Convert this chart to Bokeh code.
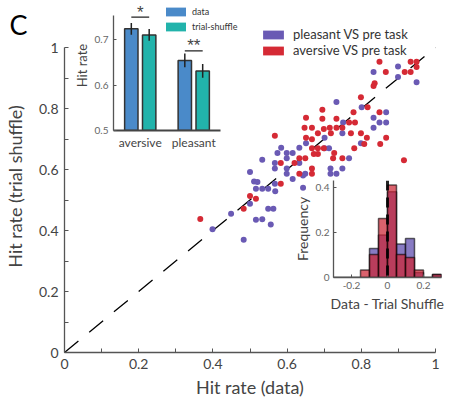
from bokeh.plotting import figure
from bokeh.models import (FixedTicker, Legend, LegendItem, Label, Span, Range1d,
                          CustomJSTickFormatter)
from bokeh.layouts import column
from bokeh.embed import file_html
from bokeh.resources import INLINE

FONT = "Lato"
PURPLE = "#6a5ab4"
RED = "#d52a35"
BLUE = "#4a8ac9"
TEAL = "#22b3ab"
AX = "#555555"
TXT = "#444444"

# ---------------- scatter data ----------------
pleasant_x = [0.899, 0.833, 0.899, 0.949, 0.733, 0.801, 0.867, 0.833, 0.751, 0.849,
              0.867, 0.833, 0.749, 0.701, 0.651, 0.584, 0.633, 0.599, 0.574, 0.615,
              0.701, 0.713, 0.799, 0.599, 0.533, 0.567, 0.633, 0.767, 0.567, 0.599,
              0.599, 0.615, 0.649, 0.643, 0.717, 0.749, 0.717, 0.733, 0.500, 0.511,
              0.520, 0.516, 0.533, 0.549, 0.567, 0.568, 0.643, 0.500, 0.449, 0.549,
              0.563, 0.516, 0.533, 0.556, 0.399, 0.483]
pleasant_y = [0.938, 0.920, 0.903, 0.886, 0.821, 0.804, 0.788, 0.770, 0.754, 0.754,
              0.754, 0.737, 0.719, 0.704, 0.686, 0.671, 0.671, 0.654, 0.654, 0.654,
              0.670, 0.670, 0.686, 0.637, 0.632, 0.621, 0.621, 0.637, 0.603, 0.603,
              0.586, 0.569, 0.586, 0.580, 0.603, 0.603, 0.586, 0.586, 0.592, 0.561,
              0.559, 0.537, 0.537, 0.537, 0.553, 0.529, 0.540, 0.488, 0.455, 0.471,
              0.471, 0.435, 0.437, 0.420, 0.404, 0.370]

aversive_x = [0.849, 0.866, 0.933, 0.949, 0.917, 0.933, 0.949, 0.836, 0.833, 0.799,
              0.817, 0.779, 0.849, 0.695, 0.651, 0.695, 0.733, 0.767, 0.783, 0.647,
              0.667, 0.683, 0.699, 0.715, 0.733, 0.749, 0.718, 0.772, 0.799, 0.815,
              0.867, 0.567, 0.651, 0.667, 0.667, 0.683, 0.699, 0.781, 0.808, 0.851,
              0.683, 0.672, 0.633, 0.649, 0.724, 0.749, 0.583, 0.620, 0.667, 0.667,
              0.727, 0.915, 0.583, 0.500, 0.516, 0.483, 0.366, 0.633]
aversive_y = [0.953, 0.920, 0.953, 0.953, 0.920, 0.920, 0.936, 0.883, 0.874, 0.837,
              0.804, 0.788, 0.788, 0.796, 0.770, 0.766, 0.766, 0.754, 0.754, 0.737,
              0.737, 0.719, 0.733, 0.737, 0.737, 0.737, 0.719, 0.719, 0.719, 0.704,
              0.704, 0.711, 0.704, 0.699, 0.670, 0.670, 0.670, 0.670, 0.684, 0.684,
              0.651, 0.651, 0.637, 0.637, 0.637, 0.637, 0.621, 0.621, 0.603, 0.586,
              0.654, 0.630, 0.553, 0.513, 0.504, 0.471, 0.438, 0.586]

main_ticks = [0, 0.2, 0.4, 0.6, 0.8, 1.0]
main_minor = [0.1, 0.3, 0.5, 0.7, 0.9]

# ---------------- bar inset data ----------------
groups = ["aversive", "pleasant"]
group_pos = [1, 2]
data_mean = [0.7235, 0.654]
data_err = [0.013, 0.015]
shuffle_mean = [0.710, 0.631]
shuffle_err = [0.013, 0.015]
sig_text = ["*", "**"]
sig_level = [0.749, 0.675]
bar_ticks = [0.5, 0.6, 0.7]

# ---------------- histogram inset data ----------------
bin_edges = [-0.3, -0.25, -0.2, -0.15, -0.1, -0.05, 0.0, 0.05, 0.1, 0.15, 0.2, 0.25, 0.3]
pleasant_freq = [0, 0, 0, 0, 0.129, 0.188, 0.38, 0.148, 0.173, 0.022, 0, 0.013]
aversive_freq = [0, 0, 0, 0.033, 0.102, 0.262, 0.41, 0.102, 0.089, 0.033, 0, 0.013]
hist_xticks = [-0.2, 0, 0.2]
hist_yticks = [0, 0.2, 0.4]

fmt = CustomJSTickFormatter(code="return String(Number(tick.toFixed(2)));")


def style_axis(ax, label_size, tick_size):
    ax.axis_line_color = AX
    ax.axis_line_width = 1.3
    ax.major_tick_line_color = AX
    ax.minor_tick_line_color = AX
    ax.major_label_text_font = FONT
    ax.axis_label_text_font = FONT
    ax.axis_label_text_font_style = "normal"
    ax.major_label_text_color = TXT
    ax.axis_label_text_color = TXT
    ax.axis_label_text_font_size = label_size
    ax.major_label_text_font_size = tick_size


def legend_swatch(fig, color):
    # zero-area quad: only provides the legend swatch style
    return fig.quad(left=[0], right=[0], top=[0], bottom=[0], fill_color=color, line_color=None)


def no_align(fig):
    fig.margin = 0
    if "frame_align" in fig.properties():
        fig.frame_align = False


def place(fig, left, top):
    no_align(fig)
    fig.styles = {"position": "absolute", "left": f"{left}px", "top": f"{top}px",
                  "margin": "0px", "padding": "0px"}


def make_legend(items, loc, gw, gh, lh, spacing, standoff, size):
    lg = Legend(items=items, location=loc, glyph_width=gw, glyph_height=gh, label_height=lh,
                spacing=3, padding=0, margin=0, label_standoff=standoff,
                label_text_font=FONT, label_text_font_size=size, label_text_color="#333333",
                border_line_color=None, background_fill_alpha=0)
    try:
        lg.spacing = spacing
    except Exception:
        pass
    return lg


# ================= main figure =================
p = figure(width=456, height=400, x_range=Range1d(0, 1), y_range=Range1d(0, 332 / 305),
           output_backend="svg", toolbar_location=None,
           min_border_left=62, min_border_right=21, min_border_top=20, min_border_bottom=48)
p.outline_line_color = None
p.grid.visible = False
p.background_fill_color = None
p.border_fill_color = "white"
no_align(p)

for ax in (p.xaxis[0], p.yaxis[0]):
    ax.ticker = FixedTicker(ticks=main_ticks, minor_ticks=main_minor)
    ax.formatter = fmt
    ax.bounds = (0, 1)
    style_axis(ax, "18px", "14px")
    ax.major_tick_in = 4
    ax.major_tick_out = 0
    ax.minor_tick_in = 4
    ax.minor_tick_out = 0
    ax.major_label_standoff = 6
p.xaxis.axis_label = "Hit rate (data)"
p.yaxis.axis_label = "Hit rate (trial shuffle)"
p.xaxis.axis_label_standoff = 4
p.yaxis.axis_label_standoff = 10

p.line([0, 1], [0, 1], line_color="black", line_width=1.3, line_dash="18 14")
rp = p.scatter(pleasant_x, pleasant_y, size=6, fill_color=PURPLE, line_color=None)
ra = p.scatter(aversive_x, aversive_y, size=6, fill_color=RED, line_color=None)

lg_p = legend_swatch(p, PURPLE)
lg_a = legend_swatch(p, RED)
p.add_layout(make_legend([LegendItem(label="pleasant VS pre task", renderers=[lg_p]),
                          LegendItem(label="aversive VS pre task", renderers=[lg_a])],
                         (196, 294), 26, 11, 11, -1, 7, "13px"))

# ================= bar inset =================
pb = figure(width=175, height=152, x_range=Range1d(0.5, 0.5 + 132 / 53.5),
            y_range=Range1d(0.5, 0.5 + 130 / 455),
            output_backend="svg", toolbar_location=None,
            min_border_left=43, min_border_right=0, min_border_top=0, min_border_bottom=22)
pb.outline_line_color = None
pb.grid.visible = False
pb.background_fill_alpha = 0
pb.border_fill_alpha = 0
off = 0.167
bw = 0.25
xd = [g - off for g in group_pos]
xs = [g + off for g in group_pos]
rd = pb.vbar(x=xd, top=data_mean, bottom=0.5, width=bw, fill_color=BLUE,
             line_color="#333333", line_width=1.5)
rs = pb.vbar(x=xs, top=shuffle_mean, bottom=0.5, width=bw, fill_color=TEAL,
             line_color="#333333", line_width=1.5)
pb.segment(x0=xd, x1=xd, y0=[m - e for m, e in zip(data_mean, data_err)],
           y1=[m + e for m, e in zip(data_mean, data_err)], line_color="#222222", line_width=1.5)
pb.segment(x0=xs, x1=xs, y0=[m - e for m, e in zip(shuffle_mean, shuffle_err)],
           y1=[m + e for m, e in zip(shuffle_mean, shuffle_err)], line_color="#222222", line_width=1.5)
pb.segment(x0=xd, x1=xs, y0=sig_level, y1=sig_level, line_color="#222222", line_width=1.2)
pb.text(x=group_pos, y=sig_level, text=sig_text, text_align="center", text_baseline="alphabetic",
        text_font_size="17px", text_color="#444444", y_offset=-5)

pb.xaxis.ticker = FixedTicker(ticks=group_pos)
pb.xaxis.major_label_overrides = {1: groups[0], 2: groups[1]}
pb.xaxis.bounds = (0.5, 2.5)
pb.yaxis.ticker = FixedTicker(ticks=bar_ticks)
pb.yaxis.bounds = (0.5, 0.7527)
style_axis(pb.xaxis[0], "13px", "12px")
style_axis(pb.yaxis[0], "13px", "10px")
pb.xaxis.major_tick_in = 0
pb.xaxis.major_tick_out = 0
pb.xaxis.minor_tick_line_color = None
pb.xaxis.axis_line_width = 2
pb.xaxis.axis_line_color = "#444444"
pb.xaxis.major_label_standoff = 4
pb.yaxis.major_tick_in = 3
pb.yaxis.major_tick_out = 0
pb.yaxis.minor_tick_line_color = None
pb.yaxis.major_label_standoff = 5
pb.yaxis.major_label_text_color = "#666666"
pb.yaxis.axis_label = "Hit rate"
pb.yaxis.axis_label_standoff = 2

lb_d = legend_swatch(pb, BLUE)
lb_s = legend_swatch(pb, TEAL)
pb.add_layout(make_legend([LegendItem(label="data", renderers=[lb_d]),
                           LegendItem(label="trial-shuffle", renderers=[lb_s])],
                          (50, 98), 25, 11, 11, 4, 4, "9px"))
place(pb, 70, 0)

# ================= histogram inset =================
ph = figure(width=168, height=150, x_range=Range1d(-0.3, 0.3), y_range=Range1d(0, 0.43),
            output_backend="svg", toolbar_location=None,
            min_border_left=45, min_border_right=15, min_border_top=10, min_border_bottom=43)
ph.outline_line_color = None
ph.grid.visible = False
ph.background_fill_alpha = 0
ph.border_fill_alpha = 0
lefts = bin_edges[:-1]
rights = bin_edges[1:]
ph.quad(left=lefts, right=rights, bottom=0, top=pleasant_freq, fill_color="#6a5ab4",
        fill_alpha=0.8, line_color="black", line_alpha=0.6, line_width=1.5)
ph.quad(left=lefts, right=rights, bottom=0, top=aversive_freq, fill_color="#cc2535",
        fill_alpha=0.72, line_color="black", line_alpha=0.6, line_width=1.5)
ph.add_layout(Span(location=0, dimension="height", line_color="black", line_width=3,
                   line_dash="10 7", line_alpha=0.85))
ph.xaxis.ticker = FixedTicker(ticks=hist_xticks)
ph.yaxis.ticker = FixedTicker(ticks=hist_yticks)
ph.xaxis.formatter = fmt
ph.yaxis.formatter = fmt
for ax in (ph.xaxis[0], ph.yaxis[0]):
    style_axis(ax, "14px", "10px")
    ax.major_tick_in = 3
    ax.major_tick_out = 0
    ax.minor_tick_line_color = None
    ax.major_label_standoff = 4
    ax.major_label_text_color = "#666666"
ph.xaxis.axis_label = "Data - Trial Shuffle"
ph.yaxis.axis_label = "Frequency"
ph.xaxis.axis_label_standoff = 3
ph.yaxis.axis_label_standoff = 2
place(ph, 288, 170)

# ================= panel letter =================
pc = figure(width=40, height=40, x_range=Range1d(0, 40), y_range=Range1d(0, 40),
            output_backend="svg", toolbar_location=None, x_axis_type=None, y_axis_type=None,
            min_border=0)
pc.outline_line_color = None
pc.grid.visible = False
pc.background_fill_alpha = 0
pc.border_fill_alpha = 0
pc.add_layout(Label(x=9, y=16, text="C", text_font=FONT, text_font_size="27px",
                    text_baseline="middle", text_color="black"))
place(pc, 0, 0)

layout = column(p, pb, ph, pc)
layout.margin = 0
open("out.html", "w").write(file_html(layout, INLINE))
